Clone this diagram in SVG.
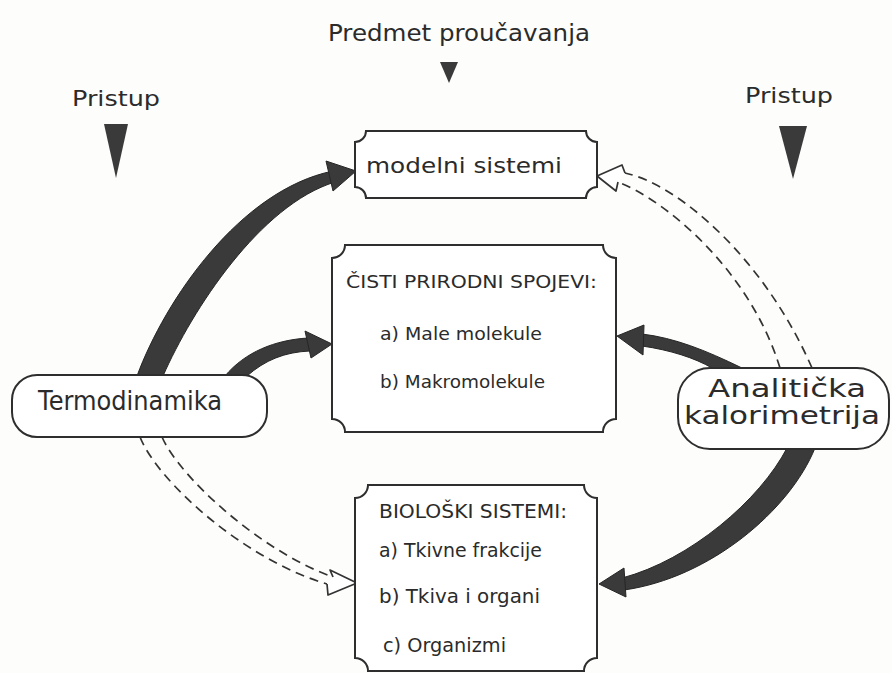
<svg xmlns="http://www.w3.org/2000/svg" width="892" height="673" viewBox="0 0 892 673">
<style>
  .t{font-family:"DejaVu Sans","Liberation Sans",sans-serif;fill:#2b2b2b}
  .box{fill:#fff;stroke:#2e2e2e;stroke-width:2}
  .band{fill:#3a3a3a;stroke:#262626;stroke-width:1}
  .dash{fill:none;stroke:#333;stroke-width:1.7;stroke-dasharray:9 6}
  .hollow{fill:#fff;stroke:#333;stroke-width:1.7;stroke-linejoin:round}
  .tri{fill:#3a3a3a}
</style>
<rect width="892" height="673" fill="#fdfdfb"/>

<g id="labels">
  <text class="t" x="328" y="41" font-size="23" textLength="262" lengthAdjust="spacingAndGlyphs">Predmet proučavanja</text>
  <polygon class="tri" points="440,62 458,62 449,83"/>
  <text class="t" x="72" y="106" font-size="22" textLength="88" lengthAdjust="spacingAndGlyphs">Pristup</text>
  <polygon class="tri" points="104,124 128,124 116,178"/>
  <text class="t" x="745" y="103" font-size="22" textLength="88" lengthAdjust="spacingAndGlyphs">Pristup</text>
  <polygon class="tri" points="779,126 807,126 793,179"/>
</g>

<g id="connectors">
  <!-- Termodinamika -> modelni sistemi -->
  <path class="band" d="M137,376 C165,300 240,190 333,171 L335,182 C260,205 192,310 163,376 Z"/>
  <polygon class="band" points="326,161 356,171 333,191"/>
  <!-- Termodinamika -> Cisti prirodni spojevi -->
  <path class="band" d="M225,376 C245,352 275,340 308,338 L310,351 C285,352 265,360 247,376 Z"/>
  <polygon class="band" points="305,331 332,344 311,358"/>
  <!-- Termodinamika -> Bioloski sistemi (dashed hollow) -->
  <path class="dash" d="M162,437 C180,478 262,552 333,577"/>
  <path class="dash" d="M140,437 C158,482 245,560 327,584"/>
  <polyline class="hollow" points="333,577 330,570 357,583 328,595 327,584"/>
  <!-- Analiticka -> modelni sistemi (dashed hollow) -->
  <path class="dash" d="M812,368 C765,260 680,185 625,173"/>
  <path class="dash" d="M780,368 C750,270 665,200 618,182"/>
  <polyline class="hollow" points="625,173 622,165 597,176 616,191 618,182"/>
  <!-- Analiticka -> Cisti prirodni spojevi -->
  <path class="band" d="M742,368 C705,350 675,338 642,334 L642,346 C670,350 695,358 712,368 Z"/>
  <polygon class="band" points="644,325 617,336 643,355"/>
  <!-- Analiticka -> Bioloski sistemi -->
  <path class="band" d="M787,448 C760,500 690,560 622,578 L624,590 C710,578 790,510 815,448 Z"/>
  <polygon class="band" points="624,568 599,584 626,597"/>
</g>

<g id="modelni">
  <path class="box" d="M366,131 H586 A11,11 0 0 0 597,142 V187 A11,11 0 0 0 586,198 H366 A11,11 0 0 0 355,187 V142 A11,11 0 0 0 366,131 Z"/>
  <text class="t" x="366" y="173" font-size="21" textLength="196" lengthAdjust="spacingAndGlyphs">modelni sistemi</text>
</g>

<g id="cisti">
  <path class="box" d="M345,245 H603 A13,13 0 0 0 616,258 V419 A13,13 0 0 0 603,432 H345 A13,13 0 0 0 332,419 V258 A13,13 0 0 0 345,245 Z"/>
  <text class="t" x="346" y="288" font-size="18" textLength="251" lengthAdjust="spacingAndGlyphs">ČISTI PRIRODNI SPOJEVI:</text>
  <text class="t" x="380" y="340" font-size="17" textLength="162" lengthAdjust="spacingAndGlyphs">a) Male molekule</text>
  <text class="t" x="380" y="388" font-size="17" textLength="165" lengthAdjust="spacingAndGlyphs">b) Makromolekule</text>
</g>

<g id="bioloski">
  <path class="box" d="M368,485 H584 A13,13 0 0 0 597,498 V658 A13,13 0 0 0 584,671 H368 A13,13 0 0 0 355,658 V498 A13,13 0 0 0 368,485 Z"/>
  <text class="t" x="379" y="518" font-size="19" textLength="188" lengthAdjust="spacingAndGlyphs">BIOLOŠKI SISTEMI:</text>
  <text class="t" x="379" y="557" font-size="19" textLength="163" lengthAdjust="spacingAndGlyphs">a) Tkivne frakcije</text>
  <text class="t" x="379" y="603" font-size="19" textLength="161" lengthAdjust="spacingAndGlyphs">b) Tkiva i organi</text>
  <text class="t" x="383" y="652" font-size="19" textLength="123" lengthAdjust="spacingAndGlyphs">c) Organizmi</text>
</g>

<g id="termodinamika">
  <rect class="box" x="12" y="375" width="255" height="62" rx="25" ry="25"/>
  <text class="t" x="38" y="410" font-size="26" textLength="184" lengthAdjust="spacingAndGlyphs">Termodinamika</text>
</g>

<g id="analiticka">
  <rect class="box" x="678" y="368" width="211" height="81" rx="32" ry="32"/>
  <text class="t" x="708" y="397" font-size="24" textLength="158" lengthAdjust="spacingAndGlyphs">Analitička</text>
  <text class="t" x="684" y="424" font-size="24" textLength="196" lengthAdjust="spacingAndGlyphs">kalorimetrija</text>
</g>
</svg>
